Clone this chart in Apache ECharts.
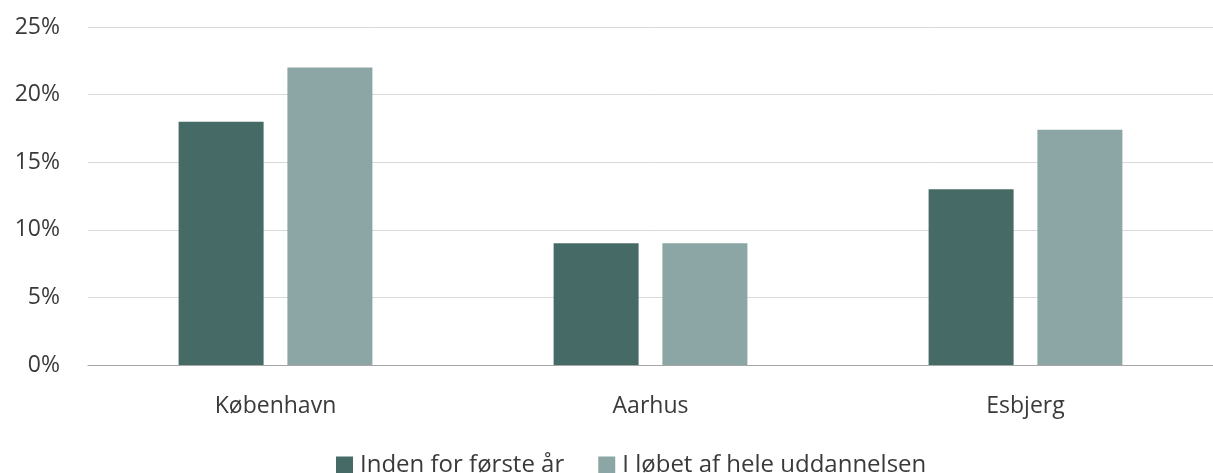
<!DOCTYPE html>
<html>
<head>
<meta charset="utf-8">
<script src="https://cdn.jsdelivr.net/npm/echarts@6/dist/echarts.min.js"></script>
<style>
  html, body { margin: 0; padding: 0; background: #fff; }
  #chart { width: 1213px; height: 473px; }
</style>
</head>
<body>
<div id="chart"></div>
<script>
var categories = ['København', 'Aarhus', 'Esbjerg'];
var foersteAar = [18, 9, 13];
var heleUddannelsen = [22, 9, 17.4];
var seriesNames = ['Inden for første år', 'I løbet af hele uddannelsen'];

var myChart = echarts.init(document.getElementById('chart'));
var font = '"Open Sans", "Noto Sans", sans-serif';
var textColor = '#3a3a3a';

var option = {
    backgroundColor: '#fff',
    animation: false,
    textStyle: { fontFamily: font },
    grid: {
        left: 88,
        right: 0,
        top: 27,
        bottom: 108
    },
    legend: {
        top: 448,
        left: 331,
        itemWidth: 17,
        itemHeight: 17,
        itemGap: 34,
        icon: 'rect',
        textStyle: { fontSize: 24, color: textColor, fontFamily: font, padding: [0, 0, 0, 2] },
        data: seriesNames
    },
    xAxis: {
        type: 'category',
        data: categories,
        axisLine: { lineStyle: { color: '#a6a6a6', width: 1 } },
        axisTick: { show: false },
        axisLabel: { fontSize: 23, color: textColor, margin: 30, fontFamily: font }
    },
    yAxis: {
        type: 'value',
        min: 0,
        max: 25,
        interval: 5,
        axisLine: { show: false },
        axisTick: { show: false },
        splitLine: { lineStyle: { color: '#d9d9d9', width: 1 } },
        axisLabel: {
            fontSize: 23,
            color: textColor,
            margin: 28,
            fontFamily: font,
            formatter: '{value}%'
        }
    },
    series: [
        {
            name: seriesNames[0],
            type: 'bar',
            data: foersteAar,
            barWidth: 85,
            barGap: '28%',
            itemStyle: { color: '#466a66' }
        },
        {
            name: seriesNames[1],
            type: 'bar',
            data: heleUddannelsen,
            barWidth: 85,
            itemStyle: { color: '#8ba6a4' }
        }
    ]
};
myChart.setOption(option);
</script>
</body>
</html>
